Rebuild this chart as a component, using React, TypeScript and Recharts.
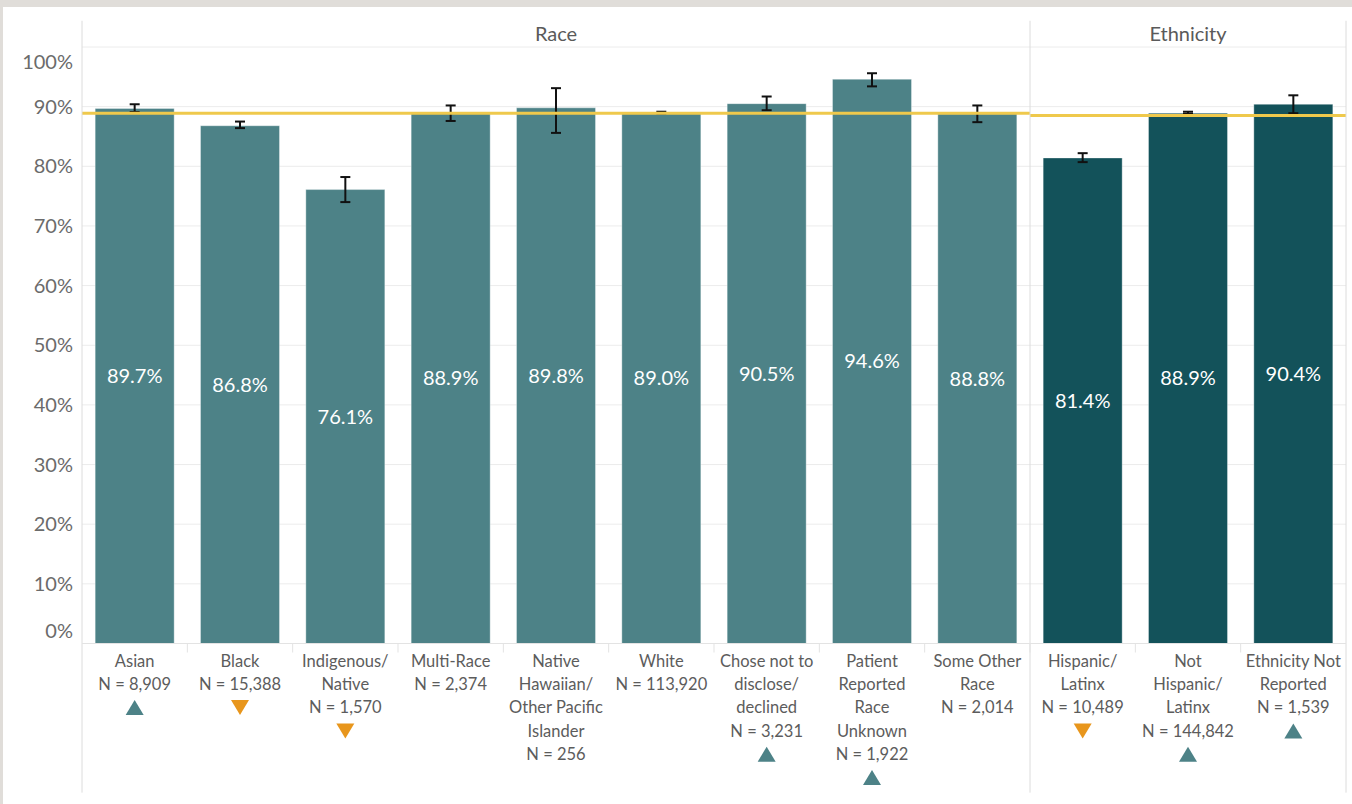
import React from 'react';
import {
  BarChart,
  Bar,
  XAxis,
  YAxis,
  CartesianGrid,
  Cell,
  ErrorBar,
  LabelList,
  ReferenceLine,
  ReferenceArea,
} from 'recharts';

// ---------- data ----------
const categories = [
  'Asian',
  'Black',
  'Indigenous/Native',
  'Multi-Race',
  'Native Hawaiian/Other Pacific Islander',
  'White',
  'Chose not to disclose/declined',
  'Patient Reported Race Unknown',
  'Some Other Race',
  'Hispanic/Latinx',
  'Not Hispanic/Latinx',
  'Ethnicity Not Reported',
];
const groups = ['Race', 'Race', 'Race', 'Race', 'Race', 'Race', 'Race', 'Race', 'Race', 'Ethnicity', 'Ethnicity', 'Ethnicity'];
const rates = [89.7, 86.8, 76.1, 88.9, 89.8, 89.0, 90.5, 94.6, 88.8, 81.4, 88.9, 90.4];
const ciLow = [89.1, 86.4, 74.0, 87.6, 85.6, 88.85, 89.4, 93.4, 87.4, 80.7, 88.8, 88.9];
const ciHigh = [90.4, 87.5, 78.2, 90.2, 93.1, 89.15, 91.7, 95.6, 90.2, 82.2, 89.15, 91.9];
const sampleSizes = [8909, 15388, 1570, 2374, 256, 113920, 3231, 1922, 2014, 10489, 144842, 1539];
const labelLines = [
  ['Asian'],
  ['Black'],
  ['Indigenous/', 'Native'],
  ['Multi-Race'],
  ['Native', 'Hawaiian/', 'Other Pacific', 'Islander'],
  ['White'],
  ['Chose not to', 'disclose/', 'declined'],
  ['Patient', 'Reported', 'Race', 'Unknown'],
  ['Some Other', 'Race'],
  ['Hispanic/', 'Latinx'],
  ['Not', 'Hispanic/', 'Latinx'],
  ['Ethnicity Not', 'Reported'],
];
const significance = ['up', 'down', 'down', '', '', '', 'up', 'up', '', 'down', 'up', 'up'];
const yTicks = [0, 10, 20, 30, 40, 50, 60, 70, 80, 90, 100];
const raceAverage = 88.9;
const ethnicityAverage = 88.5;

// ---------- style ----------
const FONT = 'Lato, "Noto Sans", sans-serif';
const RACE_COLOR = '#4d8287';
const ETH_COLOR = '#13525a';
const UP_COLOR = '#4d8287';
const DOWN_COLOR = '#e8961c';
const AVG_COLOR = '#efc94c';
const FRAME_COLOR = '#dcdcdc';
const HEADER_TOP = 104.4;
const FRAME_BOTTOM = -25;

const data = categories.map((c, i) => ({
  category: c,
  group: groups[i],
  rate: rates[i],
  err: [+(rates[i] - ciLow[i]).toFixed(2), +(ciHigh[i] - rates[i]).toFixed(2)],
}));

const YTick = (props: any) => {
  const { x, y, payload } = props;
  const v = payload.value;
  const shift = v === 100 ? 15 : v === 0 ? -13 : 0;
  return (
    <text x={x} y={y + shift} dy="0.35em" textAnchor="end" fill="#6b6b6b" fontSize={20} fontFamily={FONT}>
      {v}%
    </text>
  );
};

const XTick = (props: any) => {
  const { x, y, payload } = props;
  const i = categories.indexOf(payload.value);
  if (i < 0) return null;
  const lines = [...labelLines[i], 'N = ' + sampleSizes[i].toLocaleString('en-US')];
  const lineH = 23.3;
  const firstCenter = y + 17.5;
  const sig = significance[i];
  const cy = firstCenter + lines.length * lineH;
  const off = payload.offset;
  let tri = null;
  if (sig === 'up') {
    tri = <polygon points={`${x},${cy - 7.5} ${x + 9},${cy + 7.5} ${x - 9},${cy + 7.5}`} fill={UP_COLOR} />;
  } else if (sig === 'down') {
    tri = <polygon points={`${x - 9},${cy - 7.5} ${x + 9},${cy - 7.5} ${x},${cy + 7.5}`} fill={DOWN_COLOR} />;
  }
  return (
    <g>
      {i > 0 && typeof off === 'number' ? (
        <line x1={x - off} x2={x - off} y1={y} y2={y + 9} stroke="#e3e3e3" strokeWidth={1} />
      ) : null}
      {lines.map((t, k) => (
        <text
          key={k}
          x={x}
          y={firstCenter + k * lineH}
          dy="0.35em"
          textAnchor="middle"
          fill="#5c5c5c"
          fontSize={16.5}
          fontFamily={FONT}
        >
          {t}
        </text>
      ))}
      {tri}
    </g>
  );
};

export default function App() {
  const first = categories[0];
  const lastRace = categories[groups.lastIndexOf('Race')];
  const firstEth = categories[groups.indexOf('Ethnicity')];
  const last = categories[categories.length - 1];
  return (
    <div
      style={{
        position: 'absolute',
        left: 0,
        top: 0,
        width: 1352,
        height: 804,
        background: '#e0ddd9',
        overflow: 'hidden',
        fontFamily: FONT,
      }}
    >
      <div style={{ position: 'absolute', left: 3, top: 7, width: 1349, height: 797, background: '#ffffff' }} />
      <div style={{ position: 'absolute', left: 0, top: 0 }}>
        <BarChart
          width={1352}
          height={804}
          data={data}
          margin={{ top: 47, right: 6, bottom: 0, left: 0 }}
          barCategoryGap="12.5%"
        >
          <CartesianGrid horizontal vertical={false} stroke="#ececec" />
          <XAxis
            dataKey="category"
            interval={0}
            height={160.5}
            tickLine={false}
            tickSize={0}
            tickMargin={0}
            axisLine={{ stroke: '#e3e3e3' }}
            tick={<XTick />}
          />
          <YAxis
            type="number"
            domain={[0, 100]}
            ticks={yTicks}
            width={82}
            axisLine={false}
            tickLine={false}
            tickSize={0}
            tickMargin={9}
            tick={<YTick />}
          />
          <ReferenceArea
            x1={first}
            x2={lastRace}
            y1={100}
            y2={HEADER_TOP}
            ifOverflow="visible"
            fill="none"
            stroke="none"
            label={{ value: 'Race', position: 'center', fill: '#5a5a5a', fontSize: 20, fontFamily: FONT }}
          />
          <ReferenceArea
            x1={firstEth}
            x2={last}
            y1={100}
            y2={HEADER_TOP}
            ifOverflow="visible"
            fill="none"
            stroke="none"
            label={{ value: 'Ethnicity', position: 'center', fill: '#5a5a5a', fontSize: 20, fontFamily: FONT }}
          />
          <Bar dataKey="rate" isAnimationActive={false} stroke="rgba(255,255,255,0.35)" strokeWidth={1}>
            {data.map((d, i) => (
              <Cell key={i} fill={d.group === 'Race' ? RACE_COLOR : ETH_COLOR} />
            ))}
            <LabelList
              dataKey="rate"
              position="center"
              fill="#ffffff"
              fontSize={20}
              fontFamily={FONT}
              formatter={(v: any) => Number(v).toFixed(1) + '%'}
            />
            <ErrorBar dataKey="err" width={5} stroke="#111111" strokeWidth={2} direction="y" />
          </Bar>
          <ReferenceLine
            segment={[
              { x: first, y: raceAverage },
              { x: firstEth, y: raceAverage },
            ]}
            position="start"
            ifOverflow="visible"
            stroke={AVG_COLOR}
            strokeWidth={3}
          />
          <ReferenceLine
            segment={[
              { x: lastRace, y: ethnicityAverage },
              { x: last, y: ethnicityAverage },
            ]}
            position="end"
            ifOverflow="visible"
            stroke={AVG_COLOR}
            strokeWidth={3}
          />
          <ReferenceLine
            segment={[
              { x: first, y: HEADER_TOP },
              { x: first, y: FRAME_BOTTOM },
            ]}
            position="start"
            ifOverflow="visible"
            stroke={FRAME_COLOR}
            strokeWidth={1}
          />
          <ReferenceLine
            segment={[
              { x: firstEth, y: HEADER_TOP },
              { x: firstEth, y: FRAME_BOTTOM },
            ]}
            position="start"
            ifOverflow="visible"
            stroke={FRAME_COLOR}
            strokeWidth={1}
          />
          <ReferenceLine
            segment={[
              { x: last, y: HEADER_TOP },
              { x: last, y: FRAME_BOTTOM },
            ]}
            position="end"
            ifOverflow="visible"
            stroke={FRAME_COLOR}
            strokeWidth={1}
          />
        </BarChart>
      </div>
    </div>
  );
}
